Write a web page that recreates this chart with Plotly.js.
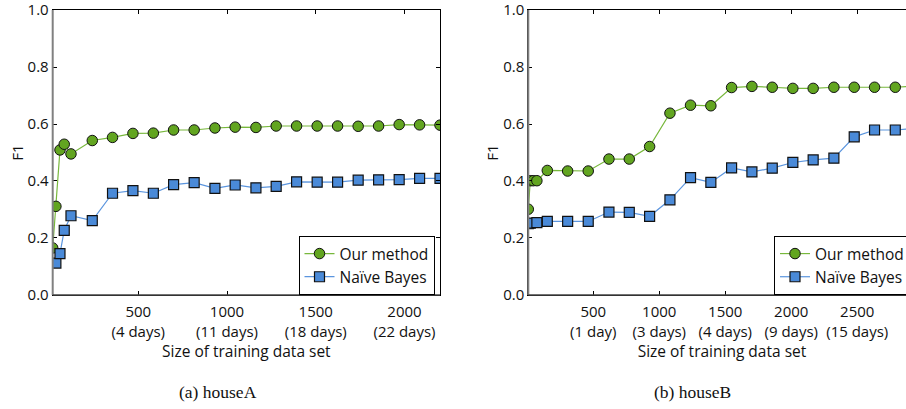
<!DOCTYPE html>
<html>
<head>
<meta charset="utf-8">
<script src="https://cdn.plot.ly/plotly-3.0.1.min.js"></script>
<style>
html,body{margin:0;padding:0;background:#fff;overflow:hidden;width:906px;height:409px;}
#chart{width:930px;height:409px;}
</style>
</head>
<body>
<div id="chart"></div>
<script>
// ---- data: (a) houseA ----
const xA_our   = [18, 36, 59, 83, 121, 241, 355, 470, 585, 699, 815, 932, 1046, 1163, 1277, 1392, 1508, 1623, 1739, 1854, 1970, 2085, 2200];
const yA_our   = [0.165, 0.311, 0.509, 0.529, 0.495, 0.542, 0.553, 0.567, 0.568, 0.579, 0.579, 0.586, 0.589, 0.588, 0.593, 0.593, 0.593, 0.593, 0.592, 0.593, 0.598, 0.597, 0.596];
const xA_nb    = [36, 59, 83, 121, 241, 355, 470, 585, 699, 815, 932, 1046, 1163, 1277, 1392, 1508, 1623, 1739, 1854, 1970, 2085, 2200];
const yA_nb    = [0.112, 0.145, 0.227, 0.278, 0.261, 0.357, 0.366, 0.357, 0.387, 0.394, 0.374, 0.386, 0.376, 0.381, 0.397, 0.396, 0.396, 0.403, 0.404, 0.405, 0.409, 0.409];
const tickValsA = [500, 1000, 1500, 2000];
const tickTextA = ["500<br>(4 days)", "1000<br>(11 days)", "1500<br>(18 days)", "2000<br>(22 days)"];

// ---- data: (b) houseB ----
const xB_our   = [8, 23, 45, 73, 152, 306, 462, 619, 773, 927, 1081, 1237, 1391, 1548, 1702, 1856, 2012, 2166, 2323, 2477, 2631, 2788, 2942];
const yB_our   = [0.301, 0.401, 0.401, 0.401, 0.437, 0.435, 0.435, 0.477, 0.477, 0.521, 0.638, 0.666, 0.664, 0.728, 0.732, 0.729, 0.725, 0.725, 0.729, 0.729, 0.729, 0.729, 0.733];
const xB_nb    = [8, 23, 73, 152, 306, 462, 619, 773, 927, 1081, 1237, 1391, 1548, 1702, 1856, 2012, 2166, 2323, 2477, 2631, 2788, 2942];
const yB_nb    = [0.250, 0.252, 0.254, 0.258, 0.258, 0.258, 0.291, 0.290, 0.276, 0.334, 0.412, 0.395, 0.446, 0.432, 0.445, 0.465, 0.474, 0.480, 0.555, 0.579, 0.579, 0.585];
const tickValsB = [500, 1000, 1500, 2000, 2500];
const tickTextB = ["500<br>(1 day)", "1000<br>(3 days)", "1500<br>(4 days)", "2000<br>(9 days)", "2500<br>(15 days)"];

const yTickVals = [0, 0.2, 0.4, 0.6, 0.8, 1.0];
const yTickText = ["0.0", "0.2", "0.4", "0.6", "0.8", "1.0"];

const seriesNames = ["Our method", "Naïve Bayes"];
const captions = ["(a) houseA", "(b) houseB"];

const FONT = "Open Sans, Noto Sans, sans-serif";
const green = {line: "#78b83c", fill: "#62a520"};
const blue  = {line: "#5b95de", fill: "#4a8ad8"};

function ourTrace(x, y, xa, ya, lg) {
  return {x: x, y: y, xaxis: xa, yaxis: ya, legend: lg, name: seriesNames[0], type: "scatter", mode: "lines+markers",
    line: {color: green.line, width: 1.2},
    marker: {symbol: "circle", size: 10.5, color: green.fill, line: {color: "#111", width: 1}}};
}
function nbTrace(x, y, xa, ya, lg) {
  return {x: x, y: y, xaxis: xa, yaxis: ya, legend: lg, name: seriesNames[1], type: "scatter", mode: "lines+markers",
    line: {color: blue.line, width: 1.2},
    marker: {symbol: "square", size: 10, color: blue.fill, line: {color: "#111", width: 1.2}}};
}

const data = [
  ourTrace(xA_our, yA_our, "x", "y", "legend"),
  nbTrace(xA_nb, yA_nb, "x", "y", "legend"),
  ourTrace(xB_our, yB_our, "x2", "y2", "legend2"),
  nbTrace(xB_nb, yB_nb, "x2", "y2", "legend2")
];

function xAxis(domain, range, tv, tt, anchor) {
  return {domain: domain, range: range, anchor: anchor, tickvals: tv, ticktext: tt,
    ticks: "inside", ticklen: 4, tickcolor: "#000", tickwidth: 1, mirror: "ticks",
    showline: true, linecolor: "#000", linewidth: 1, showgrid: false, zeroline: false,
    ticklabelstandoff: 3, ticklabeloverflow: "allow",
    tickfont: {family: FONT, size: 15, color: "#111"},
    title: {text: "Size of training data set", font: {family: FONT, size: 15.5, color: "#111"}, standoff: 1}};
}
function yAxis(anchor) {
  return {domain: [0, 1], range: [-0.0001, 1.0001], anchor: anchor, tickvals: yTickVals, ticktext: yTickText,
    ticks: "inside", ticklen: 4, tickcolor: "#000", tickwidth: 1, mirror: "ticks",
    showline: true, linecolor: "#000", linewidth: 1, showgrid: false, zeroline: false,
    ticklabeloverflow: "allow",
    tickfont: {family: FONT, size: 15, color: "#111"},
    title: {text: "F1", font: {family: FONT, size: 15, color: "#111"}, standoff: 0}};
}

function legendBox(xRight) {
  return {x: xRight, xanchor: "right", y: 0.0, yanchor: "bottom", bgcolor: "#fff",
    bordercolor: "#000", borderwidth: 1, itemwidth: 30, tracegroupgap: 0,
    font: {family: FONT, size: 15.5, color: "#111"}};
}

function spines(xd, yd) {
  return [
    {type: "line", xref: xd, yref: yd, x0: 0, x1: 0, y0: 0, y1: 1, line: {color: "#808080", width: 2}, layer: "above"},
    {type: "line", xref: xd, yref: yd, x0: 0, x1: 1, y0: 0, y1: 0, line: {color: "#444", width: 1.5}, layer: "above"}
  ];
}

const W = 930;
const layout = {
  width: W, height: 409,
  margin: {l: 0, r: 0, t: 10, b: 113.7, pad: 0},
  paper_bgcolor: "#fff", plot_bgcolor: "#fff",
  showlegend: true,
  xaxis: xAxis([52.7 / W, 440 / W], [18, 2200], tickValsA, tickTextA, "y"),
  yaxis: yAxis("x"),
  xaxis2: xAxis([528.3 / W, 915.6 / W], [8, 2942], tickValsB, tickTextB, "y2"),
  yaxis2: yAxis("x2"),
  legend: legendBox(434.5 / W),
  legend2: legendBox(910 / W),
  shapes: spines("x domain", "y domain").concat(spines("x2 domain", "y2 domain")),
  annotations: [
    {text: captions[0], xref: "paper", yref: "paper", x: 218 / W, y: -0.342, xanchor: "center", yanchor: "middle", showarrow: false,
      font: {family: "Liberation Serif, Times New Roman, serif", size: 17.5, color: "#111"}},
    {text: captions[1], xref: "paper", yref: "paper", x: 692 / W, y: -0.342, xanchor: "center", yanchor: "middle", showarrow: false,
      font: {family: "Liberation Serif, Times New Roman, serif", size: 17.5, color: "#111"}}
  ]
};

Plotly.newPlot("chart", data, layout, {staticPlot: true, displayModeBar: false});
</script>
</body>
</html>
